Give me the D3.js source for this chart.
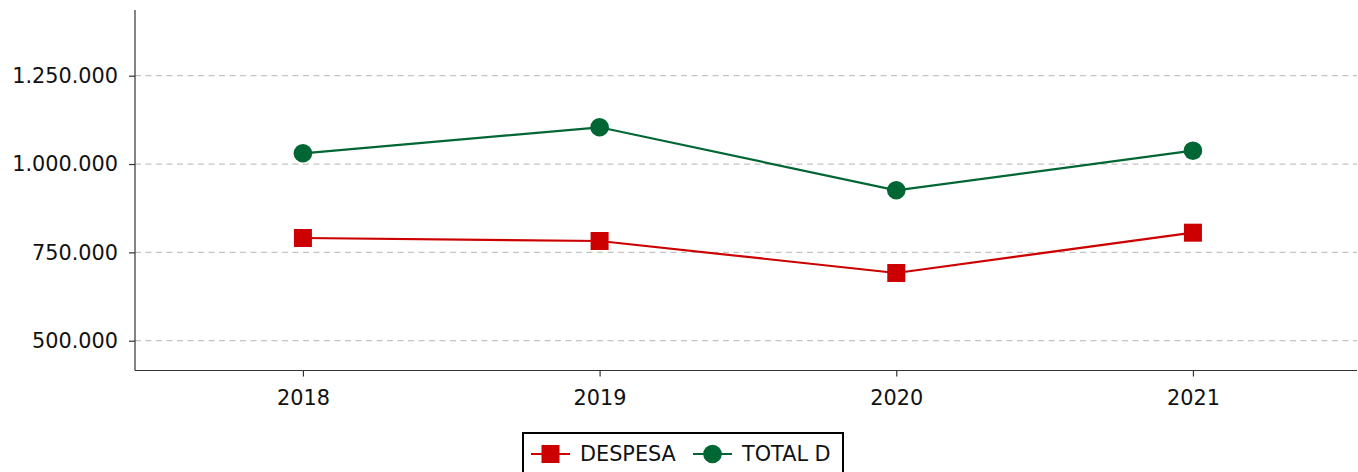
<!DOCTYPE html>
<html>
<head>
<meta charset="utf-8">
<script src="https://cdn.jsdelivr.net/npm/d3@7"></script>
<style>
  body { margin: 0; background: #fff; }
  svg { display: block; font-family: "DejaVu Sans", sans-serif; }
  .axis text { font-size: 20.8px; fill: #111; }
  .axis path, .axis line { stroke: #333; stroke-width: 1.2; }
  .grid line { stroke: #c4c4c4; stroke-width: 1.2; stroke-dasharray: 6,4.5; }
</style>
</head>
<body>
<svg id="chart"></svg>
<script>
// chart data
const years = [2018, 2019, 2020, 2021];
const despesa = [790700, 782200, 691600, 805700];
const totalD = [1030400, 1104000, 925700, 1037750];
const yTicks = [500000, 750000, 1000000, 1250000];
const seriesNames = ['DESPESA', 'TOTAL D'];

const width = 1358, height = 472;
const margin = {top: 10, right: 1, bottom: 101.5, left: 135};
const innerW = width - margin.left - margin.right;
const innerH = height - margin.top - margin.bottom;

const svg = d3.select('#chart')
    .attr('width', width)
    .attr('height', height);

const chart = svg.append('g')
    .attr('transform', `translate(${margin.left},${margin.top})`);

const xScale = d3.scaleLinear()
    .domain([2017.434, 2021.553])
    .range([0, innerW]);

const yScale = d3.scaleLinear()
    .domain([415660, 1435950])
    .range([innerH, 0]);

const fmt = v => d3.format(',')(v).replace(/,/g, '.');

// gridlines
chart.append('g')
    .attr('class', 'grid')
    .selectAll('line')
    .data(yTicks)
    .join('line')
    .attr('x1', 0)
    .attr('x2', innerW)
    .attr('y1', d => yScale(d))
    .attr('y2', d => yScale(d));

// axes
const xAxis = d3.axisBottom(xScale)
    .tickValues(years)
    .tickFormat(d3.format('d'))
    .tickSize(6)
    .tickPadding(14)
    .tickSizeOuter(0);

const yAxis = d3.axisLeft(yScale)
    .tickValues(yTicks)
    .tickFormat(fmt)
    .tickSize(6)
    .tickPadding(11)
    .tickSizeOuter(0);

chart.append('g')
    .attr('class', 'axis x-axis')
    .attr('transform', `translate(0,${innerH})`)
    .call(xAxis)
    .call(g => g.select('.domain').attr('d', `M0,0H${innerW}`));

chart.append('g')
    .attr('class', 'axis y-axis')
    .call(yAxis)
    .call(g => g.select('.domain').attr('d', `M0,0V${innerH}`));

chart.selectAll('.axis text').attr('font-family', '"DejaVu Sans", sans-serif');

// lines and markers
const series = [
    {name: seriesNames[0], values: despesa, color: '#cc0000', shape: 'square'},
    {name: seriesNames[1], values: totalD, color: '#006633', shape: 'circle'}
];

const line = d3.line()
    .x((d, i) => xScale(years[i]))
    .y(d => yScale(d));

series.forEach(s => {
    chart.append('path')
        .datum(s.values)
        .attr('fill', 'none')
        .attr('stroke', s.color)
        .attr('stroke-width', 2.2)
        .attr('d', line);

    if (s.shape === 'square') {
        chart.selectAll(null)
            .data(s.values)
            .join('rect')
            .attr('x', (d, i) => xScale(years[i]) - 9)
            .attr('y', d => yScale(d) - 9)
            .attr('width', 18)
            .attr('height', 18)
            .attr('fill', s.color);
    } else {
        chart.selectAll(null)
            .data(s.values)
            .join('circle')
            .attr('cx', (d, i) => xScale(years[i]))
            .attr('cy', d => yScale(d))
            .attr('r', 9.3)
            .attr('fill', s.color);
    }
});

// legend
const legend = svg.append('g')
    .attr('transform', 'translate(523,433)');

legend.append('rect')
    .attr('width', 320)
    .attr('height', 60)
    .attr('fill', '#fff')
    .attr('stroke', '#000')
    .attr('stroke-width', 2);

const itemX = [8, 170];
series.forEach((s, i) => {
    const g = legend.append('g').attr('transform', `translate(${itemX[i]},21)`);
    g.append('line')
        .attr('x1', 0).attr('x2', 39)
        .attr('stroke', s.color).attr('stroke-width', 2.2);
    if (s.shape === 'square') {
        g.append('rect').attr('x', 10.5).attr('y', -9).attr('width', 18).attr('height', 18).attr('fill', s.color);
    } else {
        g.append('circle').attr('cx', 19.5).attr('r', 9.3).attr('fill', s.color);
    }
    g.append('text')
        .attr('x', 49)
        .attr('dy', '0.35em')
        .attr('font-size', '20.8px')
        .attr('fill', '#111')
        .text(s.name);
});
</script>
</body>
</html>
